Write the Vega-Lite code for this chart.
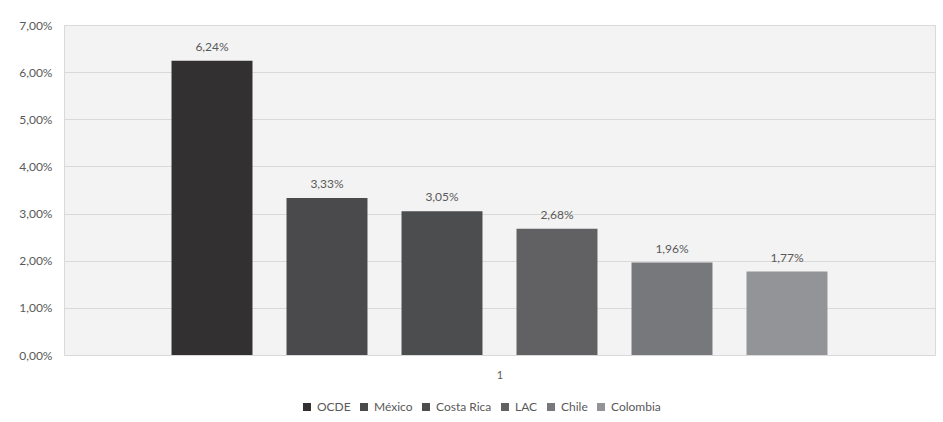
{
  "$schema": "https://vega.github.io/schema/vega-lite/v6.json",
  "autosize": "none",
  "width": 871,
  "height": 330,
  "padding": {"left": 64, "top": 25, "right": 8, "bottom": 67},
  "background": "white",
  "config": {
    "font": "Lato",
    "locale": {"number": {"decimal": ",", "thousands": ".", "grouping": [3], "currency": ["", " €"]}},
    "view": {"fill": "#f3f3f3", "stroke": "#d9d9d9", "strokeWidth": 1}
  },
  "data": {
    "values": [
      {"pais": "OCDE", "valor": 0.0624},
      {"pais": "México", "valor": 0.0333},
      {"pais": "Costa Rica", "valor": 0.0305},
      {"pais": "LAC", "valor": 0.0268},
      {"pais": "Chile", "valor": 0.0196},
      {"pais": "Colombia", "valor": 0.0177}
    ]
  },
  "encoding": {
    "x": {
      "field": "pais", "type": "nominal",
      "sort": ["OCDE", "México", "Costa Rica", "LAC", "Chile", "Colombia"],
      "scale": {"paddingInner": 0.296, "paddingOuter": 0.935},
      "axis": {"labels": false, "ticks": false, "domain": false, "title": "1", "titleFontSize": 11, "titleFontWeight": "normal", "titleColor": "#595959", "titlePadding": 14, "titleFont": "Lato"}
    },
    "y": {
      "field": "valor", "type": "quantitative",
      "scale": {"domain": [0, 0.07]},
      "axis": {"format": ".2%", "values": [0, 0.01, 0.02, 0.03, 0.04, 0.05, 0.06, 0.07], "labelOverlap": false, "title": null, "ticks": false, "domain": false, "labelPadding": 12, "labelFontSize": 12, "labelColor": "#595959", "gridColor": "#d9d9d9", "gridWidth": 1.2}
    }
  },
  "layer": [
    {
      "mark": {"type": "bar"},
      "encoding": {
        "color": {
          "field": "pais", "type": "nominal",
          "scale": {"domain": ["OCDE", "México", "Costa Rica", "LAC", "Chile", "Colombia"], "range": ["#323031", "#4a4a4c", "#4c4d4f", "#616163", "#77787b", "#939497"]},
          "legend": {"orient": "none", "legendX": 237, "legendY": 376, "direction": "horizontal", "title": null, "symbolType": "square", "symbolSize": 64, "symbolStrokeWidth": 0, "labelFontSize": 12, "labelColor": "#595959", "columnPadding": 7, "labelOffset": 4}
        }
      }
    },
    {
      "mark": {"type": "text", "baseline": "middle", "dy": -14, "fontSize": 12, "color": "#595959"},
      "encoding": {"text": {"field": "valor", "type": "quantitative", "format": ".2%"}}
    }
  ]
}
